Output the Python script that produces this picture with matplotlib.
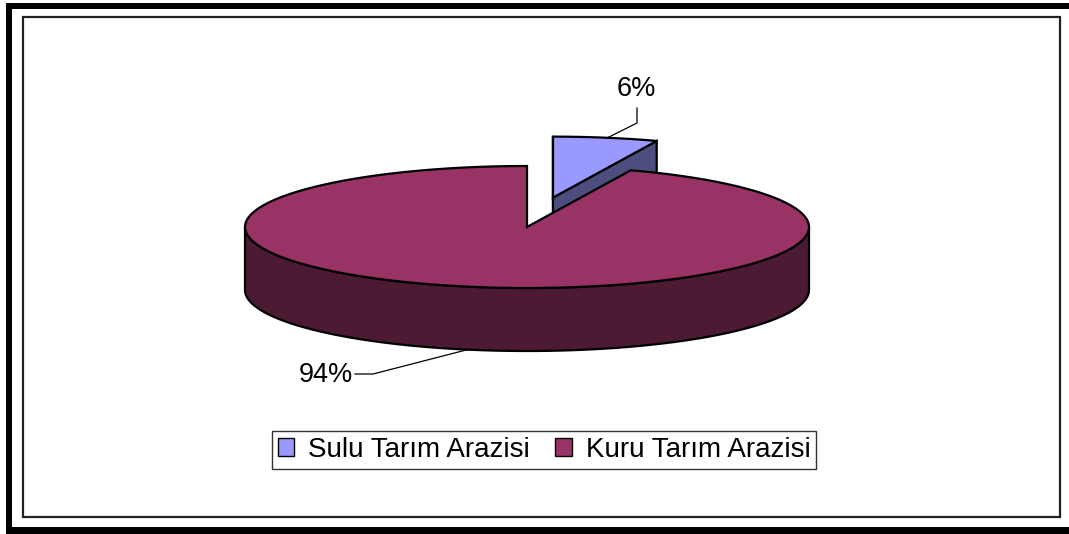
import numpy as np
import matplotlib
matplotlib.use("Agg")
import matplotlib.pyplot as plt
from matplotlib.patches import Polygon, Rectangle, Patch

# Land use shares (percent)
labels = ["Sulu Tarım Arazisi", "Kuru Tarım Arazisi"]
shares = [6, 94]
pct_labels = ["6%", "94%"]
top_colors = ["#9999FF", "#993366"]
side_colors = ["#4D4D80", "#4D1A33"]
explode = [0.49, 0.0]

W, H = 1069, 534
fig = plt.figure(figsize=(W / 100, H / 100), dpi=100)
ax = fig.add_axes([0, 0, 1, 1])
ax.set_xlim(0, W)
ax.set_ylim(H, 0)
ax.axis("off")

plt.rcParams["font.family"] = ["Liberation Sans", "DejaVu Sans"]

# 3-D pie geometry (pixel space, y pointing down)
cx, cy, rx, ry, depth = 527, 227, 282, 61, 63


def pt(t, ox=0.0, oy=0.0, dz=0.0):
    return (cx + ox + rx * np.cos(t), cy + oy - ry * np.sin(t) + dz)


def arc(t0, t1, ox=0.0, oy=0.0, dz=0.0, n=200):
    ts = np.linspace(t0, t1, n)
    return [pt(t, ox, oy, dz) for t in ts]


# slice angles: start at 12 o'clock, run clockwise
total = float(sum(shares))
bounds = []
start = np.pi / 2
for s in shares:
    end = start - 2 * np.pi * s / total
    bounds.append((start, end))
    start = end

ec = "black"
lw = 1.6

# --- exploded small slice (behind) ---
(s0, s1) = bounds[0]
mid = 0.5 * (s0 + s1)
ox = explode[0] * rx * np.cos(mid)
oy = -explode[0] * ry * np.sin(mid)
c_top = (cx + ox, cy + oy)
c_bot = (cx + ox, cy + oy + depth)
p1 = pt(s1, ox, oy)
p1b = pt(s1, ox, oy, depth)
ax.add_patch(Polygon([c_top, p1, p1b, c_bot], closed=True, fc=side_colors[0],
                     ec=ec, lw=lw, joinstyle="miter"))
ax.add_patch(Polygon([c_top] + arc(s0, s1, ox, oy), closed=True,
                     fc=top_colors[0], ec=ec, lw=lw))
p0 = pt(s0, ox, oy)
ax.plot([p0[0], p0[0]], [p0[1], p0[1] + depth], color=ec, lw=lw)

# --- large slice ---
(k0, k1) = bounds[1]
front = arc(-np.pi, 0.0) + arc(0.0, -np.pi, dz=depth)
ax.add_patch(Polygon(front, closed=True, fc=side_colors[1], ec=ec, lw=lw))
ax.add_patch(Polygon([(cx, cy)] + arc(k0, k1), closed=True,
                     fc=top_colors[1], ec=ec, lw=lw))

# --- percentage labels with leader lines ---
ax.plot([637, 637, 607], [108, 123, 138], color="black", lw=0.9)
ax.text(636, 89, pct_labels[0], ha="center", va="center", fontsize=19.5)
ax.plot([355, 373, 470], [374, 374, 349], color="black", lw=0.9)
ax.text(353, 375, pct_labels[1], ha="right", va="center", fontsize=19.5)

# --- legend ---
handles = [Patch(facecolor=c, edgecolor="black", linewidth=1.0) for c in top_colors]
leg = ax.legend(handles, labels, loc="center", bbox_to_anchor=(544, 450),
                bbox_transform=ax.transData, ncol=2, frameon=True,
                fancybox=False, fontsize=20, handlelength=0.6,
                handleheight=0.6, handletextpad=0.5, columnspacing=0.9,
                borderpad=0.2, borderaxespad=0)
leg.get_frame().set_edgecolor("black")
leg.get_frame().set_linewidth(1.0)

# --- frames ---
for r in [Rectangle((6, 3), W - 6, 6), Rectangle((6, 3), 6, H - 3),
          Rectangle((6, 527), W - 6, 7)]:
    r.set_facecolor("black")
    r.set_edgecolor("none")
    ax.add_patch(r)
ax.add_patch(Rectangle((23, 17), 1037, 500, fill=False, ec="#222222", lw=1.6))

fig.savefig("out.png", dpi=100)
